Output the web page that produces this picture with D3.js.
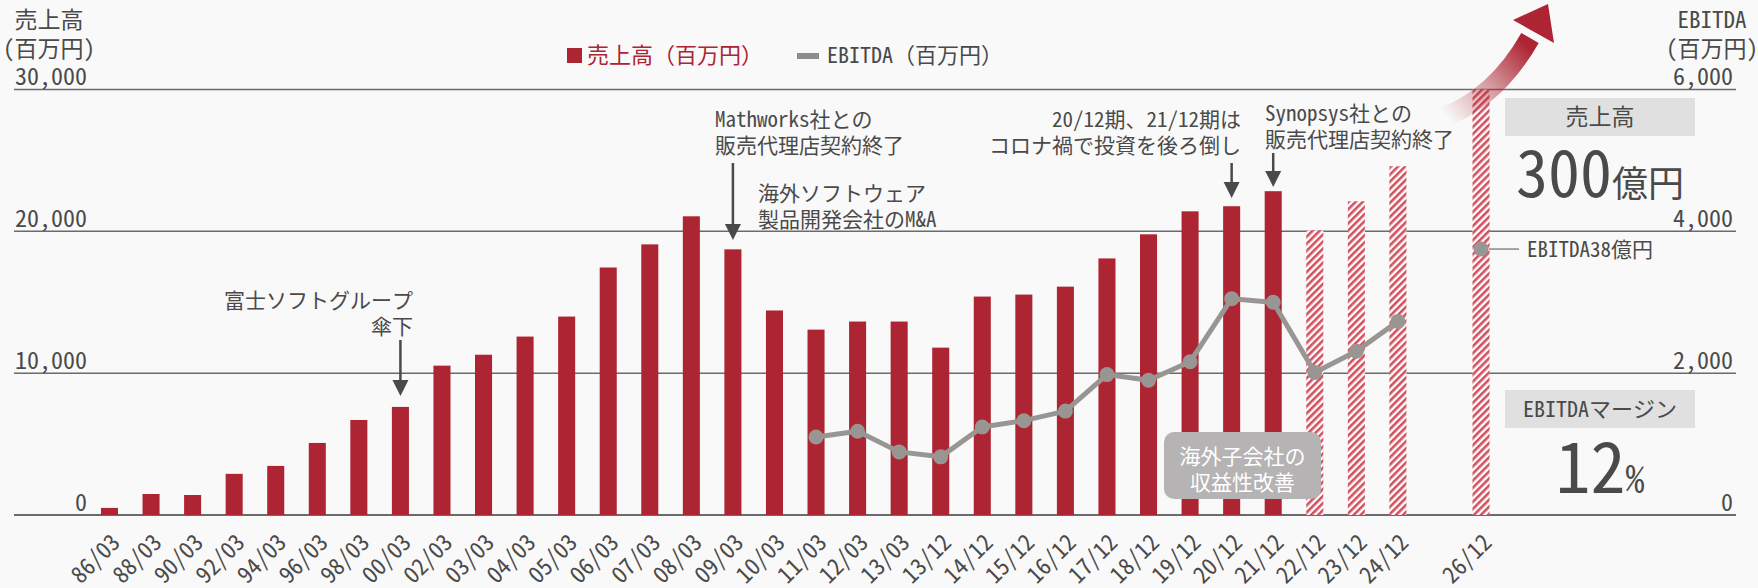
<!DOCTYPE html>
<html>
<head>
<meta charset="utf-8">
<script src="https://cdn.jsdelivr.net/npm/d3@7"></script>
<style>
  html, body { margin: 0; padding: 0; background: #f9f9f9; }
  svg { display: block; }
</style>
</head>
<body>
<div id="chart"></div>
<script>
// --- data ---
const categories = ["86/03","88/03","90/03","92/03","94/03","96/03","98/03","00/03","02/03","03/03",
  "04/03","05/03","06/03","07/03","08/03","09/03","10/03","11/03","12/03","13/03","13/12","14/12",
  "15/12","16/12","17/12","18/12","19/12","20/12","21/12","22/12","23/12","24/12","26/12"];
const sales = [500,1480,1410,2900,3460,5080,6700,7620,10530,11300,12580,13990,17450,19080,21060,18730,
  14420,13070,13640,13640,11800,15400,15540,16100,18090,19790,21410,21770,22830,20070,22120,24590,30000];
const ebitdaCats = ["11/03","12/03","13/03","13/12","14/12","15/12","16/12","17/12","18/12","19/12",
  "20/12","21/12","22/12","23/12","24/12"];
const ebitda = [1100,1180,890,820,1240,1330,1465,1980,1900,2160,3050,3000,2010,2310,2730];
const targetCat = "26/12";
const targetEbitda = 3750;
const planned = ["22/12","23/12","24/12","26/12"];
const leftTicks = [0,10000,20000,30000];
const rightTicks = [0,2000,4000,6000];

const W = 1758, H = 588;
const FONT = "'Noto Sans Mono CJK JP','Noto Sans CJK JP',sans-serif";
const RED = "#ad2432", GRAY = "#999593", TXT = "#4a4a4a";

// an empty slot sits between 24/12 and 26/12
const slots = categories.slice(0, -1).concat(["__gap", targetCat]);

const x = d3.scaleBand().domain(slots).range([88.7, 1501.8]).paddingInner(0.59).paddingOuter(0.295);
const yL = d3.scaleLinear().domain([0, 30000]).range([515, 89.5]);
const yR = d3.scaleLinear().domain([0, 6000]).range([515, 89.5]);
const cx = d => x(d) + x.bandwidth() / 2;

const svg = d3.select("#chart").append("svg").attr("width", W).attr("height", H)
  .style("font-family", FONT);

const defs = svg.append("defs");
const pat = defs.append("pattern").attr("id", "hatch").attr("patternUnits", "userSpaceOnUse")
  .attr("width", 5).attr("height", 5).attr("patternTransform", "rotate(45)");
pat.append("rect").attr("width", 5).attr("height", 5).attr("fill", "#fff");
pat.append("rect").attr("width", 2.6).attr("height", 5).attr("fill", "#d2505f");

const grad = defs.append("linearGradient").attr("id", "arrowGrad").attr("gradientUnits", "userSpaceOnUse")
  .attr("x1", 1446).attr("y1", 116).attr("x2", 1526).attr("y2", 44);
grad.append("stop").attr("offset", 0).attr("stop-color", RED).attr("stop-opacity", 0);
grad.append("stop").attr("offset", 0.5).attr("stop-color", RED).attr("stop-opacity", 0.45);
grad.append("stop").attr("offset", 1).attr("stop-color", RED).attr("stop-opacity", 1);

// gridlines
svg.append("g").selectAll("line").data(leftTicks).join("line")
  .attr("x1", 14).attr("x2", 1736)
  .attr("y1", d => yL(d)).attr("y2", d => yL(d))
  .attr("stroke", "#6b6b6b").attr("stroke-width", d => d === 0 ? 2 : 1.5);

// left axis labels
const axL = svg.append("g").attr("transform", "translate(87,0)")
  .call(d3.axisLeft(yL).tickValues(leftTicks).tickSize(0).tickPadding(0).tickFormat(d3.format(",")));
axL.select(".domain").remove();
axL.selectAll("text").attr("dy", -5).attr("fill", TXT).style("font-size", "24px").style("font-family", FONT);

// right axis labels
const axR = svg.append("g").attr("transform", "translate(1733,0)")
  .call(d3.axisLeft(yR).tickValues(rightTicks).tickSize(0).tickPadding(0).tickFormat(d3.format(",")));
axR.select(".domain").remove();
axR.selectAll("text").attr("dy", -5).attr("fill", TXT).style("font-size", "24px").style("font-family", FONT);

// axis titles
const title = (xx, lines) => lines.forEach((t, i) =>
  svg.append("text").attr("x", xx).attr("y", 28 + i * 29).attr("text-anchor", "middle")
    .attr("fill", TXT).style("font-size", "23px").text(t));
title(49, ["売上高", "(百万円)"]);
title(1712, ["EBITDA", "(百万円)"]);

// x axis labels
const axB = svg.append("g").attr("transform", "translate(0,515)")
  .call(d3.axisBottom(x).tickSize(0).tickFormat(d => d === "__gap" ? "" : d));
axB.select(".domain").remove();
axB.selectAll("text").attr("fill", TXT).style("font-size", "23px").style("font-family", FONT)
  .attr("text-anchor", "end").attr("y", 0).attr("dy", 0)
  .attr("transform", "translate(12,29) rotate(-45)");

// bars
svg.append("g").selectAll("rect").data(categories.map((c, i) => ({ c, v: sales[i] }))).join("rect")
  .attr("x", d => x(d.c)).attr("width", x.bandwidth())
  .attr("y", d => yL(d.v)).attr("height", d => yL(0) - yL(d.v))
  .attr("fill", d => planned.includes(d.c) ? "url(#hatch)" : RED);

// big arrow above the 26/12 bar
svg.append("path").attr("d", "M1442,118 Q1496,98 1530,38")
  .attr("fill", "none").attr("stroke", "url(#arrowGrad)").attr("stroke-width", 20);
svg.append("path").attr("d", "M1513,20 L1548,4 L1554,43 Z").attr("fill", RED);

// EBITDA line
const pts = ebitdaCats.map((c, i) => [cx(c), yR(ebitda[i])]);
svg.append("path").attr("d", d3.line()(pts)).attr("fill", "none")
  .attr("stroke", GRAY).attr("stroke-width", 5).attr("stroke-linejoin", "round");
svg.append("g").selectAll("circle").data(pts).join("circle")
  .attr("cx", d => d[0]).attr("cy", d => d[1]).attr("r", 7.5).attr("fill", GRAY);

// 26/12 target point + label
const tx = cx(targetCat), ty = yR(targetEbitda);
svg.append("line").attr("x1", tx + 8).attr("x2", tx + 38).attr("y1", ty).attr("y2", ty)
  .attr("stroke", "#888").attr("stroke-width", 1.5);
svg.append("circle").attr("cx", tx).attr("cy", ty).attr("r", 7.5).attr("fill", GRAY);
svg.append("text").attr("x", tx + 46).attr("y", ty + 8).attr("fill", TXT).style("font-size", "21px")
  .text("EBITDA38億円");

// legend
svg.append("rect").attr("x", 567).attr("y", 48).attr("width", 15).attr("height", 15).attr("fill", RED);
svg.append("text").attr("x", 587).attr("y", 63).attr("fill", RED).style("font-size", "22px").text("売上高（百万円）");
svg.append("rect").attr("x", 797).attr("y", 53).attr("width", 22).attr("height", 6).attr("fill", "#8d8d8d");
svg.append("text").attr("x", 827).attr("y", 63).attr("fill", TXT).style("font-size", "22px").text("EBITDA（百万円）");

// annotations
function note(lines, xx, y0, anchor) {
  lines.forEach((t, i) => svg.append("text").attr("x", xx).attr("y", y0 + i * 26)
    .attr("text-anchor", anchor).attr("fill", TXT).style("font-size", "21px").text(t));
}
function arrow(xx, yTop, yTip) {
  svg.append("line").attr("x1", xx).attr("x2", xx).attr("y1", yTop).attr("y2", yTip - 12)
    .attr("stroke", "#4a4a4a").attr("stroke-width", 2.5);
  svg.append("path").attr("d", `M${xx - 8},${yTip - 16} L${xx + 8},${yTip - 16} L${xx},${yTip} Z`).attr("fill", "#4a4a4a");
}
note(["富士ソフトグループ", "傘下"], 413, 308, "end");
arrow(cx("00/03"), 340, 396);
note(["Mathworks社との", "販売代理店契約終了"], 715, 127, "start");
arrow(cx("09/03"), 163, 240);
note(["海外ソフトウェア", "製品開発会社のM&A"], 758, 201, "start");
note(["20/12期、21/12期は", "コロナ禍で投資を後ろ倒し"], 1241, 127, "end");
arrow(cx("20/12"), 163, 198);
note(["Synopsys社との", "販売代理店契約終了"], 1265, 121, "start");
arrow(cx("21/12"), 153, 187);

// grey rounded box
svg.append("rect").attr("x", 1164).attr("y", 432).attr("width", 157).attr("height", 67).attr("rx", 10)
  .attr("fill", "#b5b3b3");
["海外子会社の", "収益性改善"].forEach((t, i) => svg.append("text").attr("x", 1242.5).attr("y", 464 + i * 26)
  .attr("text-anchor", "middle").attr("fill", "#fff").style("font-size", "21px").text(t));

// right side KPI boxes
svg.append("rect").attr("x", 1505).attr("y", 98).attr("width", 190).attr("height", 38).attr("fill", "#e0e0e0");
svg.append("text").attr("x", 1600).attr("y", 125).attr("text-anchor", "middle").attr("fill", TXT)
  .style("font-size", "23px").text("売上高");
const big1 = svg.append("text").attr("x", 1600).attr("y", 197).attr("text-anchor", "middle").attr("fill", TXT);
big1.append("tspan").style("font-size", "64px").text("300");
big1.append("tspan").style("font-size", "36px").text("億円");

svg.append("rect").attr("x", 1505).attr("y", 390).attr("width", 190).attr("height", 38).attr("fill", "#e0e0e0");
svg.append("text").attr("x", 1600).attr("y", 417).attr("text-anchor", "middle").attr("fill", TXT)
  .style("font-size", "22px").text("EBITDAマージン");
const big2 = svg.append("text").attr("x", 1600).attr("y", 493).attr("text-anchor", "middle").attr("fill", TXT);
big2.append("tspan").style("font-size", "70px").text("12");
big2.append("tspan").style("font-size", "38px").text("%");
</script>
</body>
</html>
